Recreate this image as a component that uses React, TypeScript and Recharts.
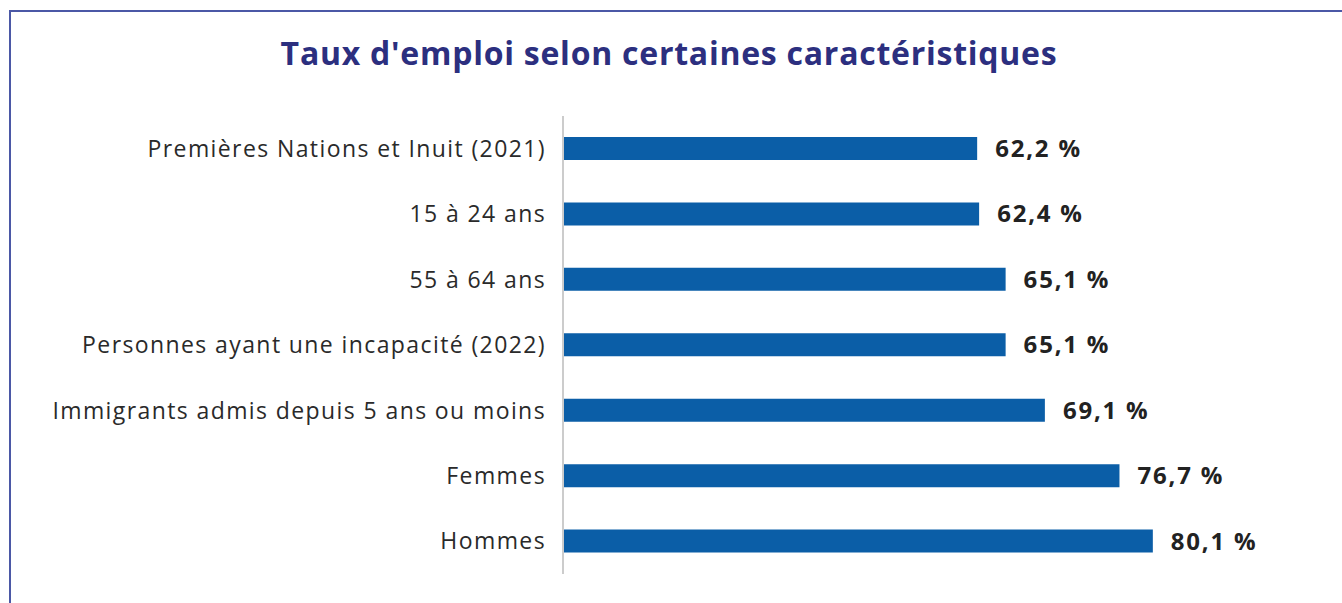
import { BarChart, Bar, XAxis, YAxis, LabelList } from 'recharts'

const categories = [
  'Premières Nations et Inuit (2021)',
  '15 à 24 ans',
  '55 à 64 ans',
  'Personnes ayant une incapacité (2022)',
  'Immigrants admis depuis 5 ans ou moins',
  'Femmes',
  'Hommes',
]
const tauxEmploi = [62.2, 62.4, 65.1, 65.1, 69.1, 76.7, 80.1]

const data = categories.map((name, i) => ({ name, value: tauxEmploi[i] }))

const FONT = '"Open Sans", "Noto Sans", sans-serif'

const fmt = (v: any) => `${Number(v).toFixed(1).replace('.', ',')} %`

export default function App() {
  return (
    <div style={{ position: 'fixed', left: 0, top: 0, width: 1342, height: 603, background: '#fff', overflow: 'hidden', fontFamily: FONT }}>
      <div
        style={{
          position: 'absolute',
          left: 9,
          top: 10,
          right: -4,
          bottom: -4,
          borderLeft: '2px solid #4b58a6',
          borderTop: '2px solid #4b58a6',
        }}
      />
      <div
        style={{
          position: 'absolute',
          left: 0,
          width: 1338,
          top: 31,
          textAlign: 'center',
          fontSize: 32,
          fontWeight: 700,
          letterSpacing: 0.75,
          color: '#2c2f7f',
          fontFamily: FONT,
        }}
      >
        Taux d'emploi selon certaines caractéristiques
      </div>
      <div style={{ position: 'absolute', left: 0, top: 0 }}>
        <BarChart
          width={1342}
          height={603}
          data={data}
          layout="vertical"
          margin={{ top: 116, right: 92, bottom: 29, left: 0 }}
        >
          <XAxis type="number" domain={[20, 90]} hide />
          <YAxis
            type="category"
            dataKey="name"
            width={563}
            tickLine={false}
            tickSize={0}
            tickMargin={17}
            axisLine={{ stroke: '#cccccc', strokeWidth: 2 }}
            tick={{ fill: '#2a2a2a', fontSize: 23, letterSpacing: 1.4, fontFamily: FONT }}
            interval={0}
          />
          <Bar dataKey="value" fill="#0b5ea7" barSize={23} isAnimationActive={false}>
            <LabelList
              dataKey="value"
              position="right"
              offset={18}
              formatter={fmt}
              style={{ fill: '#222', fontSize: 24, fontWeight: 700, letterSpacing: 1.8, fontFamily: FONT }}
            />
          </Bar>
        </BarChart>
      </div>
    </div>
  )
}
